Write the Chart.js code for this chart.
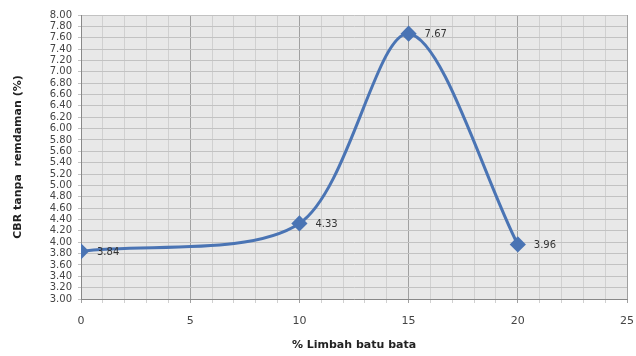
<!DOCTYPE html>
<html>
<head>
<meta charset="utf-8">
<script src="https://cdn.jsdelivr.net/npm/chart.js@4"></script>
<style>
  body { margin: 0; background: #fff; }
  #wrap { width: 636px; height: 356px; }
</style>
</head>
<body>
<div id="wrap"><canvas id="cbrChart" width="636" height="356"></canvas></div>
<script>
// data
const limbahPct = [0, 10, 15, 20];
const cbrValues = [3.84, 4.33, 7.67, 3.96];
const yMin = 3.0, yMax = 8.0, yStep = 0.2;
const xMin = 0, xMax = 25;

// grey plot background
const plotBg = {
  id: 'plotBg',
  beforeDraw(chart) {
    const { ctx, chartArea: a } = chart;
    ctx.save();
    ctx.fillStyle = '#e8e8e8';
    ctx.fillRect(a.left, a.top, a.right - a.left, a.bottom - a.top);
    ctx.restore();
  }
};

// value labels to the right of each point
const valueLabels = {
  id: 'valueLabels',
  afterDatasetsDraw(chart) {
    const { ctx } = chart;
    const meta = chart.getDatasetMeta(0);
    ctx.save();
    ctx.font = '10px "DejaVu Sans", sans-serif';
    ctx.fillStyle = '#333';
    ctx.textBaseline = 'middle';
    meta.data.forEach((pt, i) => {
      ctx.fillText(cbrValues[i].toFixed(2), pt.x + 16, pt.y + 1);
    });
    ctx.restore();
  }
};

new Chart(document.getElementById('cbrChart'), {
  type: 'line',
  data: {
    datasets: [{
      data: limbahPct.map((x, i) => ({ x: x, y: cbrValues[i] })),
      borderColor: '#4a74b4',
      backgroundColor: '#4a74b4',
      borderWidth: 3,
      tension: 0.3,
      pointStyle: 'rectRot',
      pointRadius: 6,
      pointHoverRadius: 6
    }]
  },
  options: {
    responsive: false,
    animation: false,
    layout: { padding: { left: 8, right: 5, top: 15, bottom: 0 } },
    plugins: { legend: { display: false }, tooltip: { enabled: false } },
    scales: {
      x: {
        type: 'linear',
        min: xMin,
        max: xMax,
        afterFit: s => { s.height = 57; s.paddingRight = 0; },
        ticks: {
          stepSize: 1,
          autoSkip: false,
          maxRotation: 0,
          color: '#444',
          font: { family: '"DejaVu Sans", sans-serif', size: 11 },
          padding: 12,
          callback: v => (v % 5 === 0 ? v : '')
        },
        grid: {
          color: c => (c.tick && c.tick.value % 5 === 0 ? '#a0a0a0' : '#d0d0d0'),
          lineWidth: 1,
          tickLength: 4,
          drawTicks: true
        },
        border: { color: '#888' },
        title: {
          display: true,
          text: '% Limbah batu bata',
          color: '#222',
          font: { family: '"DejaVu Sans", sans-serif', size: 11, weight: 'bold' },
          padding: { top: 4 }
        }
      },
      y: {
        min: yMin,
        max: yMax,
        afterFit: s => { s.width = 73; },
        ticks: {
          stepSize: yStep,
          autoSkip: false,
          color: '#444',
          font: { family: '"DejaVu Sans", sans-serif', size: 10 },
          padding: 6,
          callback: v => Number(v).toFixed(2)
        },
        grid: { color: '#c2c2c2', lineWidth: 1, tickLength: 3 },
        border: { color: '#888' },
        title: {
          display: true,
          text: 'CBR tanpa  remdaman (%)',
          color: '#222',
          font: { family: '"DejaVu Sans", sans-serif', size: 11, weight: 'bold' },
          padding: { bottom: 2 }
        }
      }
    }
  },
  plugins: [plotBg, valueLabels]
});
</script>
</body>
</html>
